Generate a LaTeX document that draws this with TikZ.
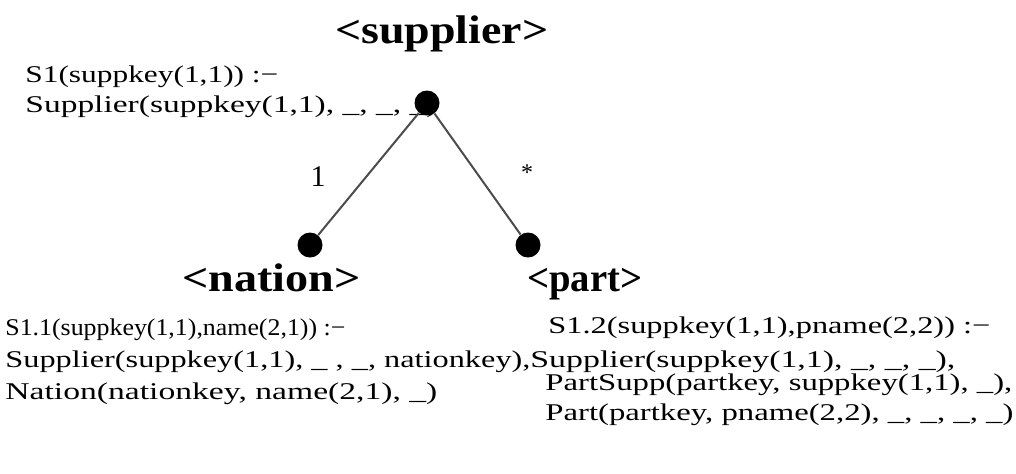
\documentclass[tikz,border=0pt]{standalone}
\usepackage{fontspec}
\setmainfont{Liberation Serif}
\usepackage{graphicx}
% one drawing unit
\newdimen\pxu \pxu=0.5pt
% set a line of text stretched horizontally to a given width
\newcommand{\fitw}[2]{\resizebox{#1\pxu}{\height}{#2}}
\tikzset{
  txt/.style={anchor=base west, inner sep=0pt, font=\fontsize{12pt}{14pt}\selectfont},
  hd/.style={anchor=base west, inner sep=0pt, font=\fontsize{20pt}{24pt}\selectfont\bfseries},
  lbl/.style={inner sep=0pt, font=\fontsize{15pt}{17pt}\selectfont},
  dot/.style={circle, fill=black, inner sep=0pt, minimum size=12.5pt},
  edge/.style={draw=black!70, line width=1pt}
}
\begin{document}
\begin{tikzpicture}[x=0.5pt, y=-0.5pt]
\useasboundingbox[fill=white] (0,0) rectangle (1016,473);

% element names
\node[hd] (hsup)  at (335,43)  {\fitw{213}{<supplier>}};
\node[hd] (hnat)  at (182,291) {\fitw{178}{<nation>}};
\node[hd] (hpart) at (527,291) {\fitw{115}{<part>}};

% rule for the root
\node[txt] (r1a) at (25,82)  {\fitw{253}{S1(suppkey(1,1)) :−}};
\node[txt] (r1b) at (25,112) {\fitw{412}{Supplier(suppkey(1,1), \_, \_, \_)}};

% rule for the nation child
\node[txt] (r2a) at (5,335) {\fitw{340}{S1.1(suppkey(1,1),name(2,1)) :−}};
\node[txt] (r2b) at (5,367) {\fitw{525}{Supplier(suppkey(1,1), \_ , \_, nationkey),}};
\node[txt] (r2c) at (5,399) {\fitw{432}{Nation(nationkey, name(2,1), \_)}};

% rule for the part child
\node[txt] (r3a) at (548,333) {\fitw{442}{S1.2(suppkey(1,1),pname(2,2)) :−}};
\node[txt] (r3b) at (530,367) {\fitw{425}{Supplier(suppkey(1,1), \_, \_, \_),}};
\node[txt] (r3c) at (545,390) {\fitw{467}{PartSupp(partkey, suppkey(1,1), \_),}};
\node[txt] (r3d) at (545,420) {\fitw{468}{Part(partkey, pname(2,2), \_, \_, \_, \_)}};

% tree
\node[dot] (dsup)  at (427,103) {};
\node[dot] (dnat)  at (310,245) {};
\node[dot] (dpart) at (528,245) {};
\draw[edge] (dsup) -- (dnat);
\draw[edge] (dsup) -- (dpart);

% cardinalities
\node[lbl] (m1) at (318,177) {1};
\node[lbl, font=\fontsize{12pt}{14pt}\selectfont] (m2) at (527,173) {*};
\end{tikzpicture}
\end{document}
